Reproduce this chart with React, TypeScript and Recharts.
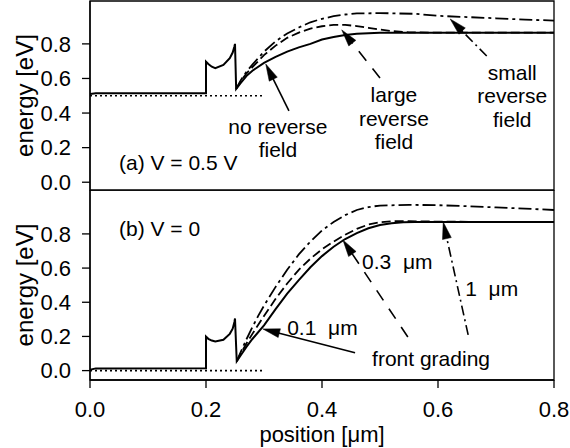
import React from 'react';
import { LineChart, Line, XAxis, YAxis, ReferenceArea, ReferenceLine, ReferenceDot } from 'recharts';

const FONT = '"Liberation Sans", Arial, Helvetica, sans-serif';

// shared x ticks
const xTicks = [0, 0.2, 0.4, 0.6, 0.8];
const yTicks = [0, 0.2, 0.4, 0.6, 0.8];

// ---------- panel (a) V = 0.5 V ----------
const aSolidX = [0, 0.01, 0.2, 0.2, 0.204, 0.21, 0.216, 0.23, 0.241, 0.246, 0.249, 0.25, 0.252, 0.26, 0.27, 0.28, 0.3, 0.32, 0.34, 0.36, 0.38, 0.4, 0.42, 0.44, 0.46, 0.48, 0.5, 0.55, 0.6, 0.7, 0.8];
const aSolidY = [0.51, 0.515, 0.515, 0.697, 0.684, 0.668, 0.66, 0.678, 0.717, 0.75, 0.785, 0.8, 0.54, 0.575, 0.615, 0.645, 0.69, 0.725, 0.755, 0.78, 0.8, 0.825, 0.84, 0.852, 0.858, 0.862, 0.864, 0.865, 0.865, 0.865, 0.865];
const aLargeX = [0.252, 0.26, 0.27, 0.28, 0.3, 0.32, 0.34, 0.36, 0.38, 0.4, 0.42, 0.44, 0.46, 0.48, 0.5, 0.52, 0.55, 0.6, 0.7, 0.8];
const aLargeY = [0.54, 0.585, 0.63, 0.665, 0.735, 0.79, 0.835, 0.865, 0.888, 0.902, 0.91, 0.91, 0.903, 0.893, 0.883, 0.874, 0.867, 0.865, 0.865, 0.865];
const aSmallX = [0.252, 0.26, 0.27, 0.28, 0.3, 0.32, 0.34, 0.36, 0.38, 0.4, 0.42, 0.44, 0.46, 0.5, 0.56, 0.6, 0.65, 0.7, 0.75, 0.8];
const aSmallY = [0.54, 0.59, 0.64, 0.68, 0.755, 0.815, 0.86, 0.895, 0.925, 0.945, 0.96, 0.97, 0.976, 0.978, 0.974, 0.962, 0.955, 0.948, 0.94, 0.935];
const aRefX = [0, 0.3];
const aRefY = [0.5, 0.5];

// ---------- panel (b) V = 0 ----------
const bSolidX = [0, 0.01, 0.2, 0.2, 0.204, 0.21, 0.216, 0.23, 0.241, 0.246, 0.249, 0.25, 0.253, 0.26, 0.27, 0.28, 0.3, 0.32, 0.34, 0.36, 0.38, 0.4, 0.42, 0.44, 0.46, 0.48, 0.5, 0.52, 0.54, 0.56, 0.6, 0.7, 0.8];
const bSolidY = [0.005, 0.013, 0.014, 0.199, 0.186, 0.176, 0.17, 0.18, 0.215, 0.245, 0.285, 0.305, 0.055, 0.09, 0.14, 0.185, 0.265, 0.36, 0.45, 0.53, 0.605, 0.67, 0.725, 0.77, 0.805, 0.833, 0.852, 0.863, 0.868, 0.87, 0.87, 0.87, 0.87];
const bMidX = [0.253, 0.26, 0.27, 0.28, 0.3, 0.32, 0.34, 0.36, 0.38, 0.4, 0.42, 0.44, 0.46, 0.48, 0.5, 0.52, 0.55, 0.6, 0.7, 0.8];
const bMidY = [0.055, 0.1, 0.16, 0.215, 0.32, 0.42, 0.51, 0.59, 0.655, 0.71, 0.755, 0.795, 0.83, 0.855, 0.868, 0.874, 0.874, 0.872, 0.87, 0.87];
const bLongX = [0.253, 0.26, 0.27, 0.28, 0.29, 0.3, 0.32, 0.34, 0.36, 0.38, 0.4, 0.42, 0.44, 0.46, 0.48, 0.5, 0.55, 0.6, 0.65, 0.7, 0.75, 0.8];
const bLongY = [0.055, 0.11, 0.185, 0.255, 0.32, 0.38, 0.49, 0.59, 0.68, 0.755, 0.82, 0.87, 0.91, 0.94, 0.957, 0.966, 0.97, 0.968, 0.962, 0.955, 0.948, 0.94];
const bRefX = [0, 0.3];
const bRefY = [0, 0];

// ---------- annotations (data coordinates) ----------
const aTexts = [
  { x: 0.05, y: 0.117, lines: ['(a) V = 0.5 V'], anchor: 'start' },
  { x: 0.324, y: 0.259, lines: ['no reverse', 'field'], anchor: 'middle' },
  { x: 0.524, y: 0.372, lines: ['large', 'reverse', 'field'], anchor: 'middle' },
  { x: 0.728, y: 0.504, lines: ['small', 'reverse', 'field'], anchor: 'middle' },
];
const aArrows = [
  { from: [0.343, 0.412], to: [0.303, 0.684], dash: '' },
  { from: [0.5, 0.603], to: [0.434, 0.881], dash: '12 10' },
  { from: [0.684, 0.73], to: [0.621, 0.944], dash: '10 4 2 4' },
];
const bTexts = [
  { x: 0.05, y: 0.835, lines: ['(b) V = 0'], anchor: 'start' },
  { x: 0.34, y: 0.256, lines: ['0.1\u00a0 \u03bcm'], anchor: 'start' },
  { x: 0.588, y: 0.074, lines: ['front grading'], anchor: 'middle' },
  { x: 0.469, y: 0.642, lines: ['0.3\u00a0 \u03bcm'], anchor: 'start' },
  { x: 0.647, y: 0.484, lines: ['1\u00a0 \u03bcm'], anchor: 'start' },
];
const bArrows = [
  { from: [0.457, 0.104], to: [0.298, 0.244], dash: '' },
  { from: [0.548, 0.197], to: [0.436, 0.765], dash: '12 10' },
  { from: [0.652, 0.209], to: [0.609, 0.87], dash: '10 4 2 4' },
];

const zip = (xs: number[], ys: number[]) => xs.map((x, i) => ({ x, y: ys[i] }));

const ArrowShape = (p: any) => {
  const { x1, y1, x2, y2, dash } = p;
  const dx = x2 - x1, dy = y2 - y1;
  const len = Math.sqrt(dx * dx + dy * dy) || 1;
  const ux = dx / len, uy = dy / len;
  const hl = 17, hw = 4.5;
  const bx = x2 - ux * hl, by = y2 - uy * hl;
  const pts = `${x2},${y2} ${bx - uy * hw},${by + ux * hw} ${bx + uy * hw},${by - ux * hw}`;
  return (
    <g>
      <line x1={x1} y1={y1} x2={bx + ux * 2} y2={by + uy * 2} stroke="#000" strokeWidth={1.6} strokeDasharray={dash || undefined} />
      <polygon points={pts} fill="#000" stroke="#000" strokeWidth={0.5} />
    </g>
  );
};

const TextShape = (p: any) => {
  const { cx, cy, lines, anchor } = p;
  const lh = 23.5;
  return (
    <text textAnchor={anchor} fontSize={21} fontFamily={FONT} fill="#000" dominantBaseline="central">
      {lines.map((l: string, i: number) => (
        <tspan key={i} x={cx} y={cy + (i - (lines.length - 1) / 2) * lh}>{l}</tspan>
      ))}
    </text>
  );
};

const yLabel = (props: any) => {
  const vb = props.viewBox || {};
  const cx = (vb.x || 0) + 24;
  const cy = (vb.y || 0) + (vb.height || 0) / 2;
  return (
    <text x={cx} y={cy} transform={`rotate(-90 ${cx} ${cy})`} textAnchor="middle" dominantBaseline="central" fontSize={24} fontFamily={FONT} fill="#000">
      energy [eV]
    </text>
  );
};

const xLabel = (props: any) => {
  const vb = props.viewBox || {};
  const cx = (vb.x || 0) + (vb.width || 0) / 2;
  return (
    <text x={cx} y={(vb.y || 0) + 62} textAnchor="middle" fontSize={22} fontFamily={FONT} fill="#000">
      position [{'\u03bc'}m]
    </text>
  );
};

const tickStyle = { fontSize: 22, fill: '#000', fontFamily: FONT };
const fmt = (v: number) => v.toFixed(1);

function renderPanel(
  domain: [number, number],
  solid: { x: number; y: number }[],
  dashed: { x: number; y: number }[],
  dashdot: { x: number; y: number }[],
  ref: { x: number; y: number }[],
  texts: any[],
  arrows: any[]
) {
  return [
    <ReferenceArea key="frame" x1={0} x2={0.8} y1={domain[0]} y2={domain[1]} fill="none" stroke="#000" strokeWidth={1.3} ifOverflow="visible" />,
    <Line key="ref" data={ref} dataKey="y" type="linear" dot={false} stroke="#000" strokeWidth={1.6} strokeDasharray="2 3" isAnimationActive={false} />,
    <Line key="solid" data={solid} dataKey="y" type="linear" dot={false} stroke="#000" strokeWidth={2} isAnimationActive={false} />,
    <Line key="dashed" data={dashed} dataKey="y" type="linear" dot={false} stroke="#000" strokeWidth={1.8} strokeDasharray="9 4" isAnimationActive={false} />,
    <Line key="dashdot" data={dashdot} dataKey="y" type="linear" dot={false} stroke="#000" strokeWidth={1.8} strokeDasharray="13 4 3 4" isAnimationActive={false} />,
    ...arrows.map((a, i) => (
      <ReferenceLine
        key={'ar' + i}
        segment={[{ x: a.from[0], y: a.from[1] }, { x: a.to[0], y: a.to[1] }]}
        stroke="#000"
        ifOverflow="visible"
        shape={(p: any) => <ArrowShape {...p} dash={a.dash} />}
      />
    )),
    ...texts.map((t, i) => (
      <ReferenceDot
        key={'tx' + i}
        x={t.x}
        y={t.y}
        r={0}
        ifOverflow="visible"
        shape={(p: any) => <TextShape {...p} lines={t.lines} anchor={t.anchor} />}
      />
    )),
  ];
}

export default function App() {
  const domA: [number, number] = [-0.045, 1.048];
  const domB: [number, number] = [-0.055, 1.057];
  return (
    <div style={{ position: 'absolute', left: 0, top: 0, width: 570, height: 448, background: '#fff' }}>
      <div style={{ position: 'absolute', left: 0, top: 0 }}>
        <LineChart width={570} height={200} margin={{ top: 1, right: 16, bottom: 10, left: 0 }}>
          <XAxis type="number" dataKey="x" domain={[0, 0.8]} ticks={xTicks} hide allowDataOverflow />
          <YAxis
            type="number"
            domain={domA}
            ticks={yTicks}
            interval={0}
            width={90}
            tickSize={8}
            tickMargin={11}
            tick={tickStyle}
            tickFormatter={fmt}
            axisLine={{ stroke: '#000', strokeWidth: 1.3 }}
            tickLine={{ stroke: '#000', strokeWidth: 1.3 }}
            allowDataOverflow
            label={yLabel}
          />
          {renderPanel(domA, zip(aSolidX, aSolidY), zip(aLargeX, aLargeY), zip(aSmallX, aSmallY), zip(aRefX, aRefY), aTexts, aArrows)}
        </LineChart>
      </div>
      <div style={{ position: 'absolute', left: 0, top: 190 }}>
        <LineChart width={570} height={258} margin={{ top: 0, right: 16, bottom: 0, left: 0 }}>
          <XAxis
            type="number"
            dataKey="x"
            domain={[0, 0.8]}
            ticks={xTicks}
            interval={0}
            height={68}
            tickSize={8}
            tickMargin={13}
            tick={tickStyle}
            tickFormatter={fmt}
            axisLine={{ stroke: '#000', strokeWidth: 1.3 }}
            tickLine={{ stroke: '#000', strokeWidth: 1.3 }}
            allowDataOverflow
            label={xLabel}
          />
          <YAxis
            type="number"
            domain={domB}
            ticks={yTicks}
            interval={0}
            width={90}
            tickSize={8}
            tickMargin={11}
            tick={tickStyle}
            tickFormatter={fmt}
            axisLine={{ stroke: '#000', strokeWidth: 1.3 }}
            tickLine={{ stroke: '#000', strokeWidth: 1.3 }}
            allowDataOverflow
            label={yLabel}
          />
          {renderPanel(domB, zip(bSolidX, bSolidY), zip(bMidX, bMidY), zip(bLongX, bLongY), zip(bRefX, bRefY), bTexts, bArrows)}
        </LineChart>
      </div>
    </div>
  );
}
